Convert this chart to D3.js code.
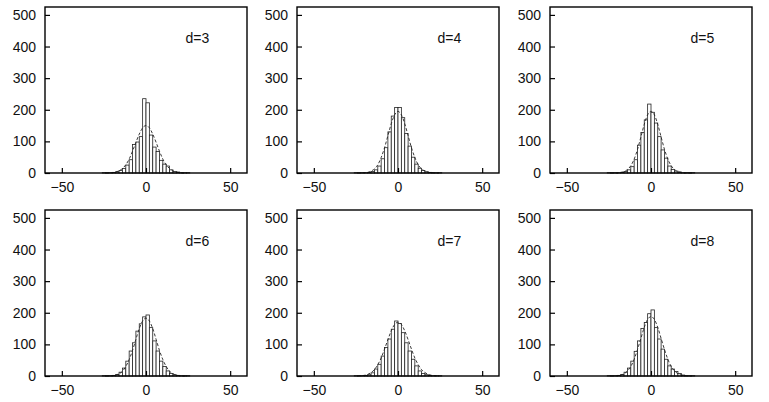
<!DOCTYPE html>
<html><head><meta charset="utf-8">
<script src="https://cdn.jsdelivr.net/npm/d3@7"></script>
<style>body{margin:0;background:#fff;} text{font-family:"Liberation Sans",Arial,Helvetica,sans-serif;}</style>
</head><body>
<svg id="c" width="769" height="402"></svg>
<script>
const panelLabels = ["d=3","d=4","d=5","d=6","d=7","d=8"];
const xTicks = [-50, 0, 50];
const yTicks = [0, 100, 200, 300, 400, 500];
const binCenters = [-25,-23,-21,-19,-17,-15,-13,-11,-9,-7,-5,-3,-1,1,3,5,7,9,11,13,15,17,19,21,23,25];
const countsD3 = [1,1,1,2,4,8,14,25,42,90,98,115,235,222,120,82,68,40,28,22,10,5,3,1,1,1];
const countsD4 = [1,1,1,1,2,5,10,22,45,80,130,180,207,207,175,125,85,50,28,15,8,4,2,1,1,1];
const countsD5 = [1,1,1,1,2,5,10,20,42,88,128,168,218,192,158,115,73,47,22,11,6,3,1,1,1,1];
const countsD6 = [1,1,1,2,5,12,25,47,79,105,142,165,187,193,153,111,79,47,30,16,8,4,2,1,1,1];
const countsD7 = [1,1,1,2,4,10,22,37,63,90,117,148,174,166,137,105,79,53,32,16,8,4,2,1,1,1];
const countsD8 = [1,1,1,2,5,12,25,47,78,111,150,169,197,209,153,117,85,53,32,22,14,8,3,1,1,1];
const curveX = [-24,-22,-20,-18,-16,-14,-12,-10,-8,-6,-4,-2,0,2,4,6,8,10,12,14,16,18,20,22,24];
const fitD3 = [0,0,1,3,7,14,26,44,69,97,123,143,150,143,123,97,69,44,26,14,7,3,1,0,0];
const fitD4 = [0,0,1,2,6,13,26,49,80,118,156,184,195,184,156,118,80,49,26,13,6,2,1,0,0];
const fitD5 = [0,0,0,2,4,11,23,44,75,114,154,184,195,184,154,114,75,44,23,11,4,2,0,0,0];
const fitD6 = [0,0,1,3,7,15,30,52,81,116,150,174,183,174,150,116,81,52,30,15,7,3,1,0,0];
const fitD7 = [0,1,2,5,11,20,36,57,85,115,143,163,170,163,143,115,85,57,36,20,11,5,2,1,0];
const fitD8 = [0,0,1,3,7,16,30,53,84,119,154,179,188,179,154,119,84,53,30,16,7,3,1,0,0];

const counts = [countsD3, countsD4, countsD5, countsD6, countsD7, countsD8];
const fits = [fitD3, fitD4, fitD5, fitD6, fitD7, fitD8];
const binWidth = 2;

const lefts = [45, 297, 550];
const tops = [7, 210];
const W = 202, H = 166;

const svg = d3.select("#c");

panelLabels.forEach((lab, i) => {
  const px = lefts[i % 3], py = tops[Math.floor(i / 3)];
  const g = svg.append("g").attr("transform", `translate(${px},${py})`);
  const x = d3.scaleLinear().domain([-60, 60]).range([0, W]);
  const y = d3.scaleLinear().domain([0, 525]).range([H, 0]);

  // bars
  g.selectAll("rect.bar").data(binCenters.map((c, k) => ({c, v: counts[i][k]})))
    .enter().append("rect")
    .attr("x", d => x(d.c - binWidth / 2))
    .attr("width", d => x(d.c + binWidth / 2) - x(d.c - binWidth / 2))
    .attr("y", d => y(d.v))
    .attr("height", d => y(0) - y(d.v))
    .attr("fill", "#fff").attr("stroke", "#222").attr("stroke-width", 0.8);

  // dashed fit curve
  const line = d3.line().x(d => x(d[0])).y(d => y(d[1])).curve(d3.curveMonotoneX);
  g.append("path").datum(curveX.map((cx, k) => [cx, fits[i][k]]))
    .attr("d", line).attr("fill", "none").attr("stroke", "#222")
    .attr("stroke-width", 0.9).attr("stroke-dasharray", "3,2");

  // frame
  g.append("rect").attr("x", 0).attr("y", 0).attr("width", W).attr("height", H)
    .attr("fill", "none").attr("stroke", "#000").attr("stroke-width", 1.4);

  // y axis (inward ticks)
  const ya = d3.axisLeft(y).tickValues(yTicks).tickSize(-5).tickPadding(9).tickFormat(d3.format("d"));
  const yg = g.append("g").call(ya);
  yg.select(".domain").remove();
  yg.selectAll("line").attr("stroke", "#000").attr("stroke-width", 1.2);
  yg.selectAll("text").attr("font-size", 14).attr("fill", "#111");

  // x axis (inward ticks)
  const xa = d3.axisBottom(x).tickValues(xTicks).tickSize(-5).tickPadding(9).tickFormat(d3.format("d"));
  const xg = g.append("g").attr("transform", `translate(0,${H})`).call(xa);
  xg.select(".domain").remove();
  xg.selectAll("line").attr("stroke", "#000").attr("stroke-width", 1.2);
  xg.selectAll("text").attr("font-size", 14).attr("fill", "#111");

  g.append("text").attr("x", x(23.5)).attr("y", y(410)).attr("font-size", 14)
    .attr("fill", "#111").text(lab);
});
</script>
</body></html>
